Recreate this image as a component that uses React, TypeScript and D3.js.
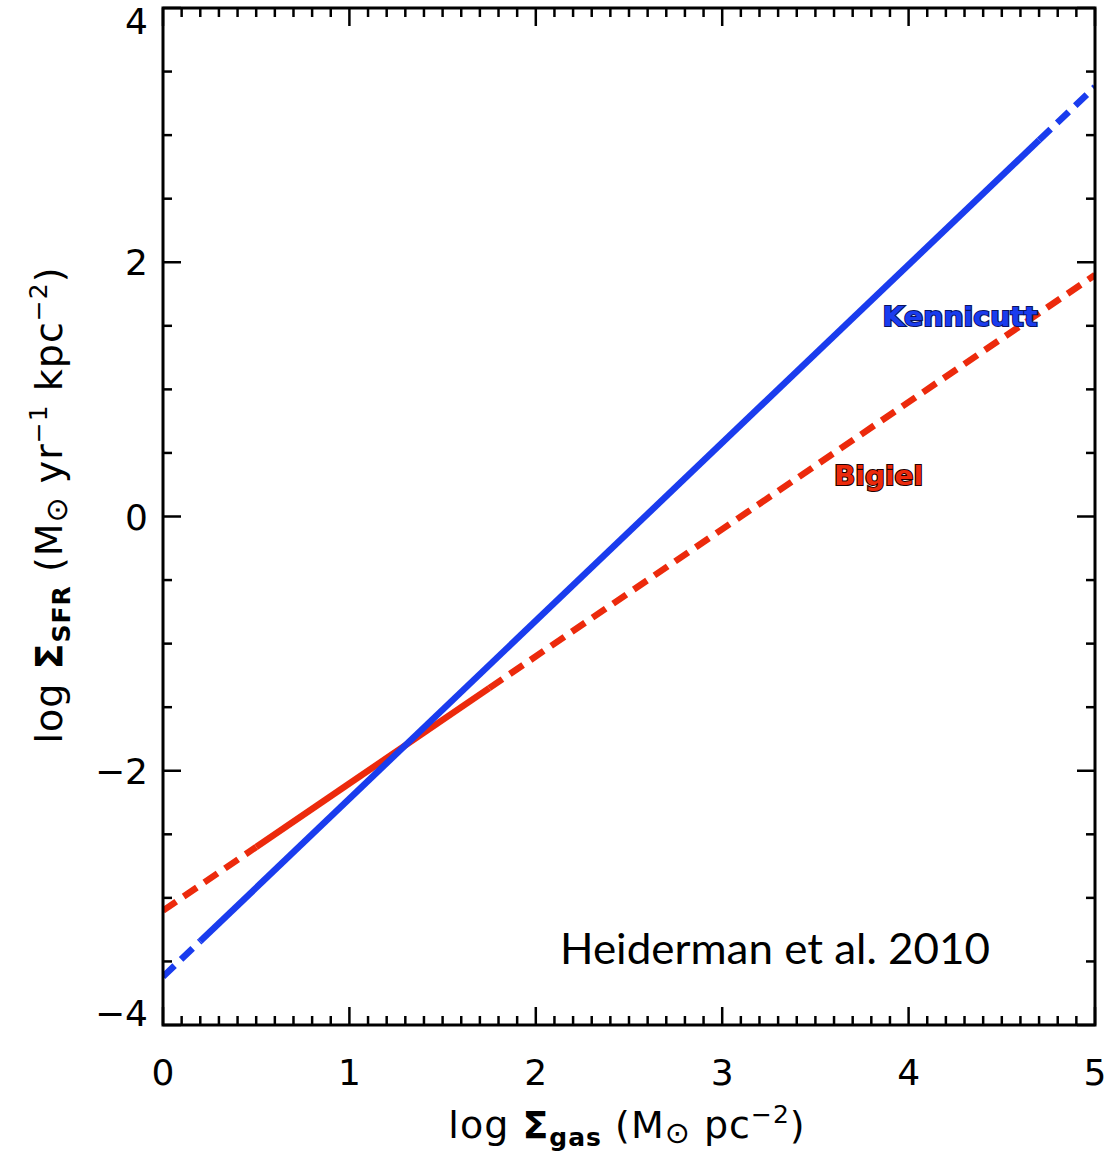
import React from "react";
import * as d3 from "d3";

const W = 1111;
const H = 1151;
const margin = { top: 8, right: 16, bottom: 126, left: 163 };

// axis tick labels
const xTickValues = [0, 1, 2, 3, 4, 5];
const yTickValues = [-4, -2, 0, 2, 4];

// Kennicutt relation: dashed / solid / dashed pieces
const kennicuttX = [0, 0.2, 4.7, 5];
const kennicuttY = [-3.62, -3.34, 2.96, 3.38];
const kennicuttStyle = ["dash", "solid", "dash"];

// Bigiel relation
const bigielX = [0, 0.5, 1.75, 5];
const bigielY = [-3.1, -2.6, -1.35, 1.9];
const bigielStyle = ["dash", "solid", "dash"];

const BLUE = "#1a3cee";
const RED = "#ec2a0c";

const App = () => {
  const gw = W - margin.left - margin.right;
  const gh = H - margin.top - margin.bottom;

  const x = d3.scaleLinear().domain([0, 5]).range([0, gw]);
  const y = d3.scaleLinear().domain([-4, 4]).range([gh, 0]);

  const line = d3
    .line<[number, number]>()
    .x((d) => x(d[0]))
    .y((d) => y(d[1]));

  const pieces = (xs: number[], ys: number[], styles: string[], color: string) =>
    styles.map((s, i) => (
      <path
        key={i}
        d={line([
          [xs[i], ys[i]],
          [xs[i + 1], ys[i + 1]],
        ]) as string}
        fill="none"
        stroke={color}
        strokeWidth={6.5}
        strokeDasharray={s === "dash" ? "16 9" : undefined}
      />
    ));

  const xMinor = x.ticks(50);
  const yMinor = y.ticks(16);
  const major = 18;
  const minor = 9;
  const tickFont = "'DejaVu Sans', 'Liberation Sans', sans-serif";

  return (
    <svg
      width={W}
      height={H}
      style={{ position: "absolute", left: 0, top: 0, background: "#fff" }}
    >
      <g transform={`translate(${margin.left},${margin.top})`}>
        <defs>
          <clipPath id="plotclip">
            <rect x={0} y={0} width={gw} height={gh} />
          </clipPath>
        </defs>

        {/* data lines */}
        <g clipPath="url(#plotclip)">
          {pieces(bigielX, bigielY, bigielStyle, RED)}
          {pieces(kennicuttX, kennicuttY, kennicuttStyle, BLUE)}
        </g>

        {/* ticks: bottom + top */}
        <g stroke="#000" strokeWidth={2.5}>
          {xMinor.map((t) => {
            const len = xTickValues.includes(Math.round(t * 10) / 10) ? major : minor;
            return (
              <g key={"x" + t}>
                <line x1={x(t)} x2={x(t)} y1={gh} y2={gh - len} />
                <line x1={x(t)} x2={x(t)} y1={0} y2={len} />
              </g>
            );
          })}
          {yMinor.map((t) => {
            const len = yTickValues.includes(t) ? major : minor;
            return (
              <g key={"y" + t}>
                <line x1={0} x2={len} y1={y(t)} y2={y(t)} />
                <line x1={gw} x2={gw - len} y1={y(t)} y2={y(t)} />
              </g>
            );
          })}
        </g>

        {/* frame */}
        <rect x={0} y={0} width={gw} height={gh} fill="none" stroke="#000" strokeWidth={3} />

        {/* tick labels */}
        <g fontFamily={tickFont} fontSize={36} fill="#000">
          {xTickValues.map((t) => (
            <text key={t} x={x(t)} y={gh + 60} textAnchor="middle">
              {t}
            </text>
          ))}
          {yTickValues.map((t) => {
            const yy = Math.min(Math.max(y(t), 13), gh - 12);
            return (
              <text key={t} x={-15} y={yy + 13} textAnchor="end">
                {t < 0 ? "\u2212" + Math.abs(t) : t}
              </text>
            );
          })}
        </g>

        {/* line labels */}
        <g fontFamily="'DejaVu Sans', sans-serif" fontWeight="bold" fontSize={26} paintOrder="stroke">
          <text x={x(3.86)} y={y(1.5)} fill={BLUE} stroke="#0a1460" strokeWidth={2} textLength={155} lengthAdjust="spacingAndGlyphs">
            Kennicutt
          </text>
          <text x={x(3.6)} y={y(0.25)} fill={RED} stroke="#200000" strokeWidth={2} textLength={89} lengthAdjust="spacingAndGlyphs">
            Bigiel
          </text>
        </g>

        {/* reference */}
        <text x={x(2.13)} y={y(-3.52)} fontFamily="Lato, 'Open Sans', sans-serif" fontSize={42} fill="#000" textLength={430} lengthAdjust="spacingAndGlyphs">
          Heiderman et al. 2010
        </text>
      </g>

      {/* x axis title */}
      <text x={627} y={1138} textAnchor="middle" fontFamily={tickFont} fontSize={38} fill="#000" letterSpacing={1}>
        log <tspan fontWeight="bold">Σ</tspan>
        <tspan fontSize={25} fontWeight="bold" dy={8}>gas</tspan>
        <tspan dy={-8}> (M</tspan>
        <tspan fontSize={30} dy={5}>⊙</tspan>
        <tspan dy={-5}> pc</tspan>
        <tspan fontSize={25} dy={-15}>−2</tspan>
        <tspan dy={15}>)</tspan>
      </text>

      {/* y axis title */}
      <text
        transform={`translate(62,505) rotate(-90)`}
        textAnchor="middle"
        fontFamily={tickFont}
        fontSize={38}
        fill="#000"
        letterSpacing={1}
      >
        log <tspan fontWeight="bold">Σ</tspan>
        <tspan fontSize={25} fontWeight="bold" dy={8}>SFR</tspan>
        <tspan dy={-8}> (M</tspan>
        <tspan fontSize={30} dy={5}>⊙</tspan>
        <tspan dy={-5}> yr</tspan>
        <tspan fontSize={25} dy={-15}>−1</tspan>
        <tspan dy={15}> kpc</tspan>
        <tspan fontSize={25} dy={-15}>−2</tspan>
        <tspan dy={15}>)</tspan>
      </text>
    </svg>
  );
};

export default App;
